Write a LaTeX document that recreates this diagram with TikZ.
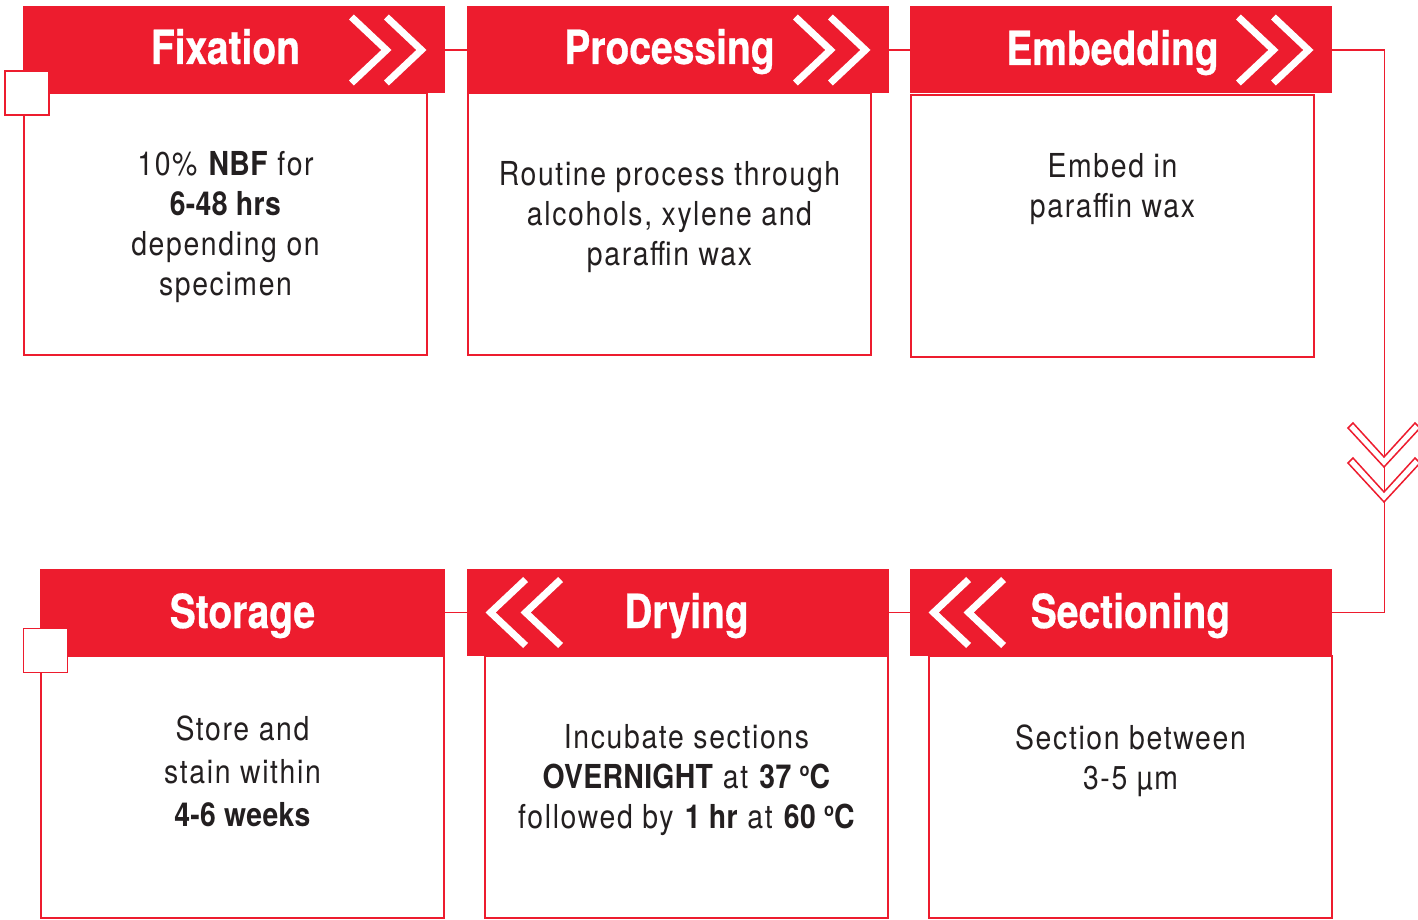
\documentclass[tikz,border=0pt]{standalone}
\usepackage{fontspec}
\setmainfont{TeX Gyre Heros}[FakeStretch=0.86,LetterSpace=5,BoldFeatures={LetterSpace=1}]
\newfontfamily\headfont{TeX Gyre Heros}[FakeStretch=0.83,FakeBold=0.6]
\definecolor{hred}{HTML}{ED1C2E}
\definecolor{ink}{HTML}{231F20}
\newcommand\degc{\raisebox{0.36em}{\fontsize{9.5}{9.5}\selectfont o}C}

\begin{document}
\begin{tikzpicture}[x=0.5pt,y=-0.5pt,
  hdr/.style={fill=hred,inner sep=0pt,minimum height=43.5pt,minimum width=211pt},
  card/.style={draw=hred,line width=0.75pt,inner sep=0pt,minimum width=201.5pt,minimum height=131pt},
  hlab/.style={anchor=base,inner sep=0pt,text=white,font=\headfont\bfseries\fontsize{23.5}{28}\selectfont},
  body/.style={anchor=north,inner sep=0pt,align=center,text=ink,font=\fontsize{16.5}{20}\selectfont},
  chev/.style={white,line width=3.5pt,miter limit=10},
  link/.style={hred,line width=0.75pt},
  corner/.style={draw=hred,fill=white,line width=0.75pt,minimum size=22pt,inner sep=0pt}]

\useasboundingbox (0,0) rectangle (1418,920);

\node[card] (fixB) at (225.5,224) {};
\node[card] (procB) at (669.5,224) {};
\node[card] (embB) at (1112.5,226) {};
\node[card] (stoB) at (242.5,787) {};
\node[card] (dryB) at (686.5,787) {};
\node[card] (secB) at (1130.5,787) {};

\node[hdr] (fixH) at (234,50) {};
\node[hdr] (procH) at (678,50) {};
\node[hdr] (embH) at (1121,50) {};
\node[hdr,minimum width=202.5pt] (stoH) at (242.5,612.5) {};
\node[hdr] (dryH) at (678,612.5) {};
\node[hdr] (secH) at (1121,612.5) {};

\draw[link] (fixH) -- (procH);
\draw[link] (procH) -- (embH);
\draw[link] (embH.east) -- ++(52,0) |- (secH.east);
\draw[link] (dryH) -- (secH);
\draw[link] (stoH) -- (dryH);
\foreach \d in {0,35}
  \draw[link,fill=white] (1348,428+\d) -- (1353,423+\d) -- (1384,457+\d)
    -- (1415,423+\d) -- (1420,428+\d) -- (1384,467+\d) -- cycle;

\foreach \n in {fixH,procH,embH}
  \foreach \d in {0,35}
    \draw[chev,shift={(\n.east)}] (\d-94,-33) -- (\d-59,0) -- (\d-94,33);
\foreach \n in {dryH,secH}
  \foreach \d in {0,35}
    \draw[chev,shift={(\n.west)}] (94-\d,-33) -- (59-\d,0) -- (94-\d,33);

\node[corner] (fixC) at (27,93) {};
\node[corner] (stoC) at (45.5,650.5) {};

\node[hlab] (fixL) at (225.5,64) {Fixation};
\node[hlab] (procL) at (669.5,64) {Processing};
\node[hlab] (embL) at (1112.5,65) {Embedding};
\node[hlab] (stoL) at (242.5,628) {Storage};
\node[hlab] (dryL) at (686.5,628) {Drying};
\node[hlab] (secL) at (1130.5,628) {Sectioning};

\node[body] (fixT) at (225.5,151) {10\% \textbf{NBF} for\\ \textbf{6-48 hrs}\\ depending on\\ specimen};
\node[body] (procT) at (669.5,161) {Routine process through\\ alcohols, xylene and\\ paraffin wax};
\node[body] (embT) at (1112.5,153) {Embed in\\ paraffin wax};
\node[body,font=\fontsize{16.5}{21.5}\selectfont] (stoT) at (242.5,715) {Store and\\ stain within\\ \textbf{4-6 weeks}};
\node[body] (dryT) at (686.5,724) {Incubate sections\\ \textbf{OVERNIGHT} at \textbf{37 \degc}\\ followed by \textbf{1 hr} at \textbf{60 \degc}};
\node[body] (secT) at (1130.5,724) {Section between\\ 3-5 µm};
\end{tikzpicture}
\end{document}
